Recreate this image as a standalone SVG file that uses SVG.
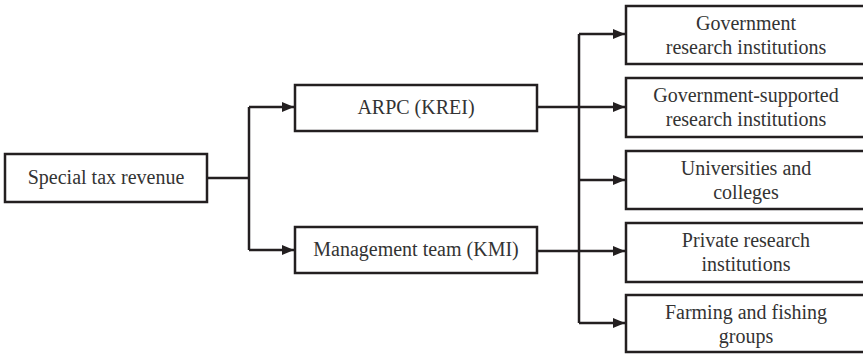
<svg xmlns="http://www.w3.org/2000/svg" width="863" height="354" viewBox="0 0 863 354">
<style>
.box{fill:#fff;stroke:#231f20;stroke-width:2.5}
.t{font-size:20px;fill:#333;text-anchor:middle}
.c{fill:none;stroke:#231f20;stroke-width:2.5}
</style>
<defs>
<marker id="ah" markerWidth="12" markerHeight="10" refX="12" refY="5" orient="auto" markerUnits="userSpaceOnUse">
<path d="M0,0 L12,5 L0,10 Z" fill="#231f20"/>
</marker>
</defs>
<g id="connectors">
<path class="c" d="M207,178 H249"/>
<path class="c" d="M249,107 V250"/>
<path class="c" d="M249,107 H294" marker-end="url(#ah)"/>
<path class="c" d="M249,250 H294" marker-end="url(#ah)"/>
<path class="c" d="M537,107 H579"/>
<path class="c" d="M537,251 H579"/>
<path class="c" d="M579,34 V323"/>
<path class="c" d="M579,34 H625" marker-end="url(#ah)"/>
<path class="c" d="M579,107 H625" marker-end="url(#ah)"/>
<path class="c" d="M579,180 H625" marker-end="url(#ah)"/>
<path class="c" d="M579,251 H625" marker-end="url(#ah)"/>
<path class="c" d="M579,323 H625" marker-end="url(#ah)"/>
</g>
<g font-family="Liberation Serif">
<g id="special">
<rect class="box" x="5" y="154" width="202" height="48"/>
<text class="t" x="106" y="184">Special tax revenue</text>
</g>
<g id="arpc">
<rect class="box" x="295" y="85" width="242" height="46"/>
<text class="t" x="416" y="114">ARPC (KREI)</text>
</g>
<g id="kmi">
<rect class="box" x="295" y="227" width="242" height="46"/>
<text class="t" x="416" y="256">Management team (KMI)</text>
</g>
<g id="gov">
<rect class="box" x="626" y="6" width="240" height="58"/>
<text class="t" x="746" y="30">Government</text>
<text class="t" x="746" y="54">research institutions</text>
</g>
<g id="govsup">
<rect class="box" x="626" y="78" width="240" height="59"/>
<text class="t" x="746" y="102">Government-supported</text>
<text class="t" x="746" y="126">research institutions</text>
</g>
<g id="univ">
<rect class="box" x="626" y="151" width="240" height="58"/>
<text class="t" x="746" y="175">Universities and</text>
<text class="t" x="746" y="199">colleges</text>
</g>
<g id="private">
<rect class="box" x="626" y="223" width="240" height="59"/>
<text class="t" x="746" y="247">Private research</text>
<text class="t" x="746" y="271">institutions</text>
</g>
<g id="farming">
<rect class="box" x="626" y="295" width="240" height="57"/>
<text class="t" x="746" y="319">Farming and fishing</text>
<text class="t" x="746" y="343">groups</text>
</g>
</g>
</svg>
